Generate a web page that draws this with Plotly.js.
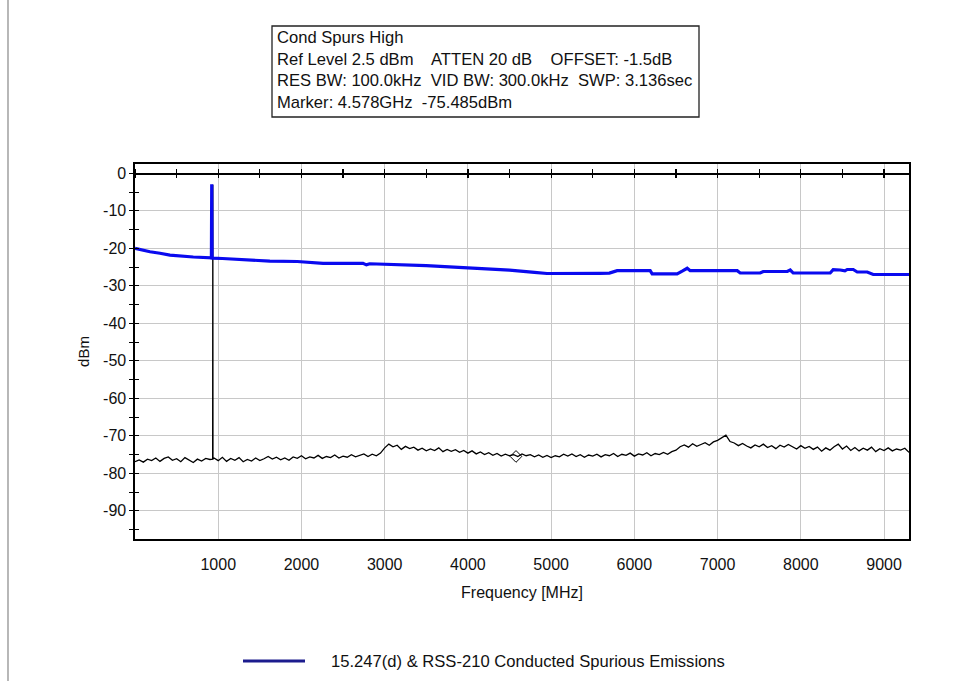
<!DOCTYPE html>
<html>
<head>
<meta charset="utf-8">
<script src="https://cdn.plot.ly/plotly-3.0.1.min.js"></script>
<style>html,body{margin:0;padding:0;background:#fff}#chart{width:954px;height:681px}</style>
</head>
<body>
<div id="chart"></div>
<script>
// ---- Measured trace (dBm), one sample every 50 MHz starting at 0 MHz ----
var sweepStartMHz = 0;
var sweepStepMHz = 50;
var traceLevels = [
 -76.9,-76.4,-77.0,-76.2,-76.6,-75.9,-76.8,-76.0,-75.6,-76.5,-76.1,-76.9,-75.8,-76.4,-77.1,-76.2,-76.7,-76.0,-76.3,
 -75.9,-76.6,-75.7,-76.8,-76.0,-76.5,-75.8,-76.9,-76.3,-76.7,-75.9,-76.6,-76.1,-75.5,-76.2,-75.7,-76.4,-75.9,-76.5,-75.6,-76.0,
 -75.3,-76.1,-75.6,-75.9,-75.2,-76.0,-75.5,-75.8,-75.1,-75.9,-75.4,-75.7,-75.0,-75.6,-75.2,-74.8,-75.5,-74.9,-75.3,-74.6,
 -73.2,-72.2,-72.9,-72.5,-73.6,-72.8,-73.4,-73.0,-73.8,-73.3,-74.0,-73.5,-73.9,-73.2,-74.2,-73.6,-74.1,-73.7,-74.4,-73.9,
 -74.6,-74.0,-74.8,-74.3,-75.0,-74.5,-75.2,-74.7,-75.4,-74.9,-75.3,-75.0,-75.5,-74.8,-75.3,-75.0,-75.6,-75.1,-75.7,-75.2,
 -75.8,-75.3,-75.6,-74.9,-75.4,-74.8,-75.5,-75.0,-75.7,-75.1,-75.4,-74.9,-75.6,-75.0,-75.3,-74.7,-75.5,-74.9,-75.2,-74.6,
 -75.4,-74.8,-75.1,-74.5,-75.3,-74.7,-75.0,-74.4,-74.9,-74.2,
 -73.8,-72.9,-72.4,-73.0,-72.1,-72.8,-72.3,-71.8,-72.5,-71.6,-71.2,-70.6,-69.8,-71.5,-71.9,-72.6,-72.0,-72.7,-73.2,-72.4,
 -72.9,-72.2,-73.1,-72.6,-73.4,-72.5,-73.0,-72.3,-72.9,-73.5,
 -72.6,-73.3,-72.8,-73.6,-73.0,-74.1,-73.2,-73.8,-72.9,-72.2,-73.5,-72.7,-73.9,-73.1,-74.0,-73.3,-73.8,-73.0,-74.2,-73.4,
 -73.9,-73.2,-74.0,-73.5,-73.8,-73.3,-74.4
];
// carrier spike in the measured trace
var carrierFreqMHz = [933, 935, 937];
var carrierLevels = [-76.2, -3.0, -76.2];

// ---- Limit line (15.247(d) & RSS-210) ----
var limitFreqMHz = [0,100,180,300,420,700,918,922,926,1050,1450,1620,1950,2260,2740,2780,2820,3000,3500,4000,4500,4800,4950,5589,5700,5793,6190,6214,6514,6580,6635,6671,7236,7272,7512,7548,7837,7873,7909,8353,8389,8474,8530,8558,8630,8678,8798,8870,9300];
var limitLevels  = [-20.0,-20.6,-20.9,-21.3,-21.8,-22.3,-22.5,-2.9,-22.6,-22.7,-23.1,-23.4,-23.5,-24.0,-24.0,-24.4,-24.1,-24.2,-24.6,-25.2,-25.8,-26.4,-26.7,-26.65,-26.6,-25.95,-25.95,-26.8,-26.8,-26.0,-25.3,-25.95,-25.95,-26.57,-26.57,-26.17,-26.17,-25.77,-26.57,-26.57,-25.7,-25.77,-26.0,-25.63,-25.63,-26.3,-26.3,-26.97,-26.97];

// ---- Marker ----
var markerFreqMHz = [4578];
var markerLevel = [-75.485];

// ---- Axes ----
var xTickVals = [1000,2000,3000,4000,5000,6000,7000,8000,9000];
var xTickText = ["1000","2000","3000","4000","5000","6000","7000","8000","9000"];
var yTickVals = [0,-10,-20,-30,-40,-50,-60,-70,-80,-90];
var yTickText = ["0","-10","-20","-30","-40","-50","-60","-70","-80","-90"];
var xRange = [0, 9300];
var yRange = [-97.5, 2.5];

var infoLines = [
  "Cond Spurs High",
  "Ref Level 2.5 dBm\u00A0\u00A0\u00A0 ATTEN 20 dB\u00A0\u00A0\u00A0 OFFSET: -1.5dB",
  "RES BW: 100.0kHz\u00A0 VID BW: 300.0kHz\u00A0 SWP: 3.136sec",
  "Marker: 4.578GHz\u00A0 -75.485dBm"
];
var legendLabel = "15.247(d) & RSS-210 Conducted Spurious Emissions";

// build trace arrays
var tx = [], ty = [];
for (var i = 0; i < traceLevels.length; i++) {
  var f = sweepStartMHz + i * sweepStepMHz;
  if (f > carrierFreqMHz[0] && tx.length && tx[tx.length-1] < carrierFreqMHz[0]) {
    for (var k = 0; k < carrierFreqMHz.length; k++) { tx.push(carrierFreqMHz[k]); ty.push(carrierLevels[k]); }
  }
  tx.push(f); ty.push(traceLevels[i]);
}

var FONT = "Liberation Sans, Arial, sans-serif";
var data = [
  {x: tx, y: ty, type: 'scatter', mode: 'lines', line: {color: '#000000', width: 1.3}, showlegend: false, hoverinfo: 'skip'},
  {x: limitFreqMHz, y: limitLevels, type: 'scatter', mode: 'lines', line: {color: '#0a0aef', width: 3.2}, name: legendLabel, showlegend: false, hoverinfo: 'skip'},
  {x: markerFreqMHz, y: markerLevel, type: 'scatter', mode: 'markers', marker: {symbol: 'diamond-open', size: 9, color: '#000', line: {width: 1}}, showlegend: false, hoverinfo: 'skip'},
  {x: [null], y: [null], xaxis: 'x2', yaxis: 'y', showlegend: false, hoverinfo: 'skip'},
  {x: [null], y: [null], xaxis: 'x3', yaxis: 'y', showlegend: false, hoverinfo: 'skip'},
  {x: [null], y: [null], xaxis: 'x', yaxis: 'y2', showlegend: false, hoverinfo: 'skip'}
];

var P = function(px){ return (px - 135) / 774; };
var Q = function(py){ return (539 - py) / 375; };

var annotations = [];
var lineY = [38, 59.5, 81, 103];
for (var j = 0; j < infoLines.length; j++) {
  annotations.push({xref: 'paper', yref: 'paper', x: P(275), y: Q(lineY[j]), xanchor: 'left', yanchor: 'middle',
    text: infoLines[j], showarrow: false, font: {family: FONT, size: 16.6, color: '#111'}});
}
annotations.push({xref: 'paper', yref: 'paper', x: P(329), y: Q(661), xanchor: 'left', yanchor: 'middle',
  text: legendLabel, showarrow: false, font: {family: FONT, size: 16.6, color: '#111'}});

var layout = {
  width: 954, height: 681,
  margin: {l: 135, r: 45, t: 164, b: 142},
  paper_bgcolor: '#ffffff', plot_bgcolor: '#ffffff',
  font: {family: FONT, size: 16, color: '#111'},
  showlegend: false,
  xaxis: {
    range: xRange, tickvals: xTickVals, ticktext: xTickText, ticks: '', showgrid: true, gridcolor: '#c8c8c8', gridwidth: 1,
    showline: true, linecolor: '#000', linewidth: 1.6, mirror: true, zeroline: false, ticklabelstandoff: 10,
    title: {text: 'Frequency [MHz]', font: {family: FONT, size: 16, color: '#111'}, standoff: 15},
    tickfont: {family: FONT, size: 16, color: '#111'}
  },
  xaxis2: {
    overlaying: 'x', anchor: 'free', position: 0.975, side: 'top', range: xRange, showgrid: false, zeroline: false,
    showticklabels: false, ticks: 'outside', ticklen: 4, tickcolor: '#000', tickwidth: 1.2,
    tick0: 0, dtick: 500, showline: true, linecolor: '#000', linewidth: 1.4
  },
  xaxis3: {
    overlaying: 'x', anchor: 'free', position: 0.975, side: 'bottom', range: xRange, showgrid: false, zeroline: false,
    showticklabels: false, ticks: 'outside', ticklen: 4, tickcolor: '#000', tickwidth: 1.2,
    tick0: 0, dtick: 500, showline: false
  },
  yaxis: {
    range: yRange, tickvals: yTickVals, ticktext: yTickText, ticks: 'outside', ticklen: 4, tickcolor: '#000', tickwidth: 1.2,
    minor: {tickvals: [-95,-85,-75,-65,-55,-45,-35,-25,-15,-5], ticks: 'outside', ticklen: 4, tickcolor: '#000', tickwidth: 1.2, showgrid: false},
    showgrid: true, gridcolor: '#c8c8c8', gridwidth: 1, showline: true, linecolor: '#000', linewidth: 1.6, mirror: true, zeroline: false,
    title: {text: 'dBm', font: {family: FONT, size: 15, color: '#111'}, standoff: 10},
    tickfont: {family: FONT, size: 16, color: '#111'}
  },
  yaxis2: {
    overlaying: 'y', side: 'left', anchor: 'x', range: yRange, showgrid: false, zeroline: false, showticklabels: false,
    ticks: 'inside', ticklen: 4, tickcolor: '#000', tickwidth: 1.2, tick0: 0, dtick: 5
  },
  shapes: [
    {type: 'rect', xref: 'paper', yref: 'paper', x0: P(272), x1: P(699), y0: Q(117), y1: Q(26), line: {color: '#222', width: 1.3}, fillcolor: 'rgba(0,0,0,0)'},
    {type: 'line', xref: 'paper', yref: 'paper', x0: P(243), x1: P(305), y0: Q(661), y1: Q(661), line: {color: '#1c1c8e', width: 3}},
    {type: 'line', xref: 'paper', yref: 'paper', x0: P(8), x1: P(8), y0: Q(0), y1: Q(681), line: {color: '#888', width: 1.2}}
  ],
  annotations: annotations
};

Plotly.newPlot('chart', data, layout, {staticPlot: true, displayModeBar: false});
</script>
</body>
</html>
